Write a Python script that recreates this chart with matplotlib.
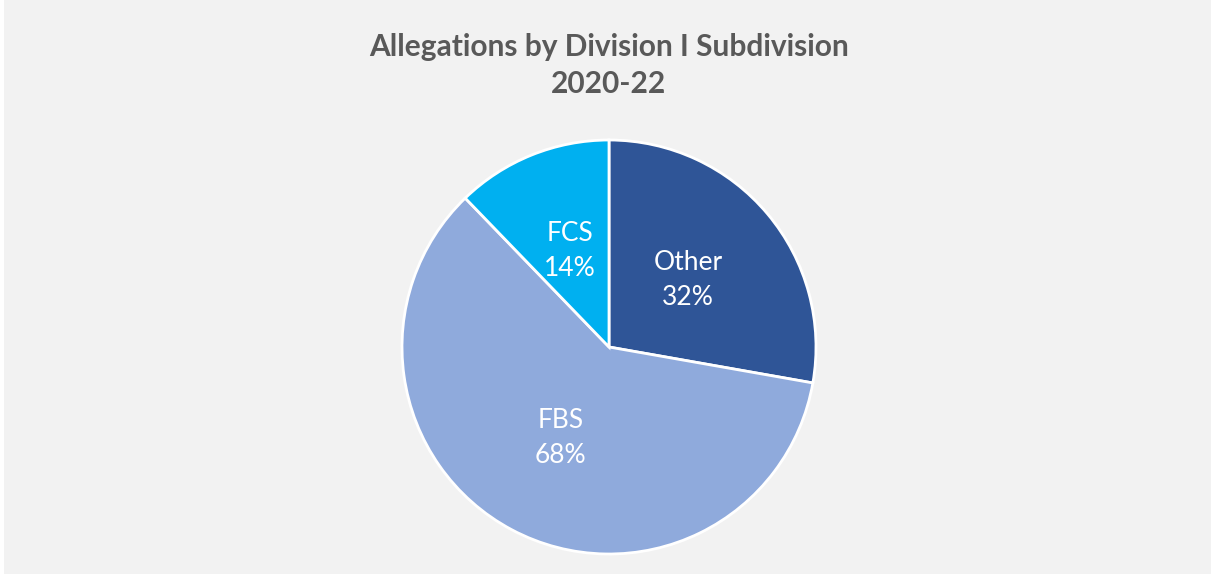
import matplotlib
matplotlib.use("Agg")
import matplotlib.pyplot as plt
from matplotlib.patches import Rectangle

# slice sizes (degrees) and the printed labels
categories = ["Other", "FBS", "FCS"]
shares = [100, 216, 44]
pct_labels = ["32%", "68%", "14%"]
colors = ["#2f5597", "#8faadc", "#00b0f0"]

W, H = 1211, 578
fig = plt.figure(figsize=(W / 100, H / 100), dpi=100, facecolor="white")

# grey chart area, leaving a thin white strip left and bottom
bg = fig.add_axes([0, 0, 1, 1], zorder=0)
bg.add_patch(Rectangle((4 / W, 4 / H), 1, 1, facecolor="#f2f2f2", edgecolor="none"))
bg.set_xlim(0, 1)
bg.set_ylim(0, 1)
bg.axis("off")

# pie centre (609, 347) px, radius 207 px
cx, cy, r = 609, H - 347, 207
ax = fig.add_axes([(cx - r) / W, (cy - r) / H, 2 * r / W, 2 * r / H], zorder=1)
ax.axis("off")

labels = [f"{c}\n{p}" for c, p in zip(categories, pct_labels)]
ax.pie(shares, labels=labels, colors=colors, startangle=90, counterclock=False,
       radius=1, labeldistance=0.5, frame=False,
       wedgeprops=dict(edgecolor="white", linewidth=2),
       textprops=dict(color="white", fontsize=19, family="Lato",
                      ha="center", va="center", linespacing=1.5))
ax.set_xlim(-1, 1)
ax.set_ylim(-1, 1)
ax.set_aspect("auto")

bg.text(609 / W, 1 - 47 / H, "Allegations by Division I Subdivision",
        ha="center", va="center", fontsize=21.5, fontweight="bold",
        family="Lato", color="#595959")
bg.text(609 / W, 1 - 84 / H, "2020-22",
        ha="center", va="center", fontsize=21.5, fontweight="bold",
        family="Lato", color="#595959")

fig.savefig("out.png", dpi=100, facecolor=fig.get_facecolor())
